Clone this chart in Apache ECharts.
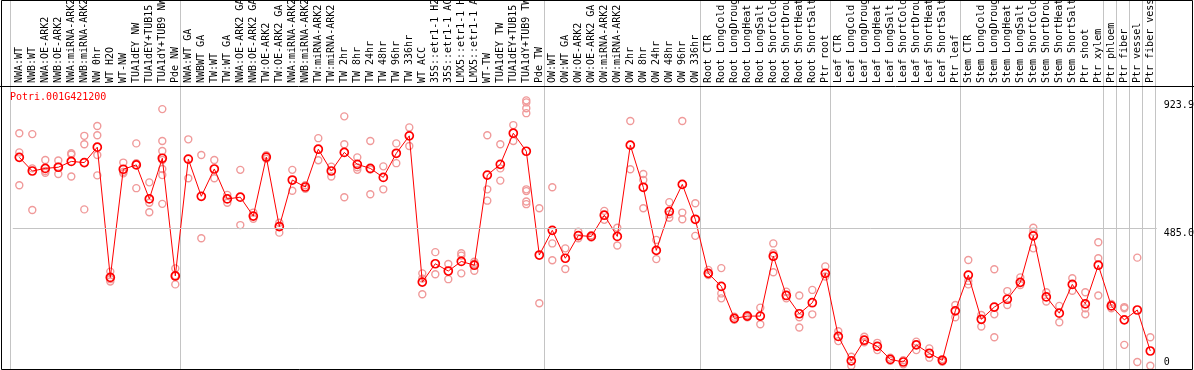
<!DOCTYPE html>
<html><head><meta charset="utf-8">
<script src="https://cdn.jsdelivr.net/npm/echarts@6/dist/echarts.min.js"></script>
<style>html,body{margin:0;padding:0;background:#fff}#c{width:1194px;height:370px}</style>
</head><body><div id="c"></div>
<script>
const geneId = 'Potri.001G421200';
const categories = [
 'NWA:WT','NWB:WT','NWA:OE-ARK2','NWB:OE-ARK2','NWA:miRNA-ARK2','NWB:miRNA-ARK2','NW 0hr','WT H2O','WT-NW','TUA1dEY NW','TUA1dEY+TUB15 NW','TUA1dY+TUB9 NW','Pde NW',
 'NWA:WT GA','NWBWT GA','TW:WT','TW:WT GA','NWA:OE-ARK2 GA','NWB:OE-ARK2 GA','TW:OE-ARK2','TW:OE-ARK2 GA','NWA:miRNA-ARK2 GA','NWB:miRNA-ARK2 GA','TW:miRNA-ARK2','TW:miRNA-ARK2 GA',
 'TW 2hr','TW 8hr','TW 24hr','TW 48hr','TW 96hr','TW 336hr','WT ACC','35S::etr1-1 H2O','35S::etr1-1 ACC','LMX5::etr1-1 H2O','LMX5::etr1-1 ACC','WT-TW','TUA1dEY TW','TUA1dEY+TUB15 TW','TUA1dY+TUB9 TW','Pde TW',
 'OW:WT','OW:WT GA','OW:OE-ARK2','OW:OE-ARK2 GA','OW:miRNA-ARK2','OW:miRNA-ARK2 GA','OW 2hr','OW 8hr','OW 24hr','OW 48hr','OW 96hr','OW 336hr',
 'Root CTR','Root LongCold','Root LongDrought','Root LongHeat','Root LongSalt','Root ShortCold','Root ShortDrought','Root ShortHeat','Root ShortSalt','Ptr root',
 'Leaf CTR','Leaf LongCold','Leaf LongDrought','Leaf LongHeat','Leaf LongSalt','Leaf ShortCold','Leaf ShortDrought','Leaf ShortHeat','Leaf ShortSalt','Ptr leaf',
 'Stem CTR','Stem LongCold','Stem LongDrought','Stem LongHeat','Stem LongSalt','Stem ShortCold','Stem ShortDrought','Stem ShortHeat','Stem ShortSalt','Ptr shoot','Ptr xylem',
 'Ptr phloem','Ptr fiber','Ptr vessel','Ptr fiber vessel'
];
const meanValues = [
 728,681,690,694,714,710,763,315,687,702,585,725,320,
 722,594,688,585,591,526,729,490,650,626,756,681,
 745,704,690,659,742,802,299,362,337,370,357,667,704,811,749,392,
 477,381,459,456,529,456,770,625,408,542,635,515,
 329,284,174,182,182,388,253,190,228,329,
 112,28,99,78,33,24,83,54,30,200,
 323,171,213,240,298,458,248,192,291,224,357,
 217,169,203,62
];
const replicateValues = [
 [811,745,632],[808,690,547],[719,681,675],[717,696,671],[742,738,662],[802,773,549],[836,804,736,666],[335,309,301],[710,678,673],[776,708,622],[642,572,539],[894,784,750,719,688,667,568],[346,322,291],
 [790,656],[736,450],[719,656],[599,572],[685,495],[538,517],[735,723],[503,469],[685,613],[632,620],[794,718],[696,662],
 [869,773,591],[728,694,685],[784,686,601],[697,618],[776,708],[831,767],[329,311,257],[402,326],[361,309],[398,390,329],[369,362,338],[804,618,579],[773,690,648],[839,784],[924,917,897,880,618,612,576,567],[553,226],
 [625,432,374],[415,344],[472,450],[460,452],[544,513],[486,425],[853,687],[671,650,553],[444,378],[574,532,520],[853,538,515],[570,458],
 [341,323],[347,260,243],[180,169],[186,178],[211,154],[432,398,333],[266,243],[253,178,143],[272,188],[353,318],
 [130,96],[42,11],[111,92],[90,65],[39,28],[30,16],[94,65],[71,39],[34,25],[220,178],
 [375,303,291],[186,146],[343,188,109],[268,220],[315,289],[486,472,415],[264,232],[217,161],[312,269],[264,209,188],[436,381,253],
 [224,209],[213,209,83],[383,24],[109,11]
];
const yTickValues = [0, 485, 923.9];
const yMax = 970;
const groupEnds = [12,40,52,62,72,83,84,85,86,87];

const MONO = 'DejaVu Sans Mono';
const scatterData = [];
replicateValues.forEach((arr, i) => arr.forEach(v => scatterData.push([i, v])));
const dividerPos = [-0.66].concat(groupEnds.map(i => i + 0.385));

const chart = echarts.init(document.getElementById('c'), null, {renderer: 'canvas'});
const option = {
  animation: false,
  backgroundColor: '#fff',
  title: {
    text: geneId, left: 5, top: 87,
    textStyle: {fontFamily: MONO, fontSize: 10, fontWeight: 'normal', color: '#ff0000'}
  },
  grid: [
    {left: 12.8, right: 37.2, top: 87, height: 282, outerBoundsMode: 'none', containLabel: false},
    {left: 0, right: 37.2, top: 0, height: 369, outerBoundsMode: 'none', containLabel: false}
  ],
  xAxis: [
    {
      type: 'category', gridIndex: 0, position: 'top', data: categories, boundaryGap: true,
      axisLine: {show: false}, axisTick: {show: false}, splitLine: {show: false},
      axisLabel: {interval: 0, rotate: 90, margin: 4, fontFamily: MONO, fontSize: 10, color: '#000', hideOverlap: false}
    },
    {
      type: 'value', gridIndex: 1, min: -1.4846, max: 87.5,
      axisLine: {show: false}, axisLabel: {show: false},
      axisTick: {show: false, customValues: dividerPos},
      splitLine: {show: true, lineStyle: {color: '#c4c4c4', width: 1}}
    }
  ],
  yAxis: [
    {
      type: 'value', gridIndex: 0, position: 'right', min: 0, max: yMax, interval: 485,
      axisLine: {show: false}, axisTick: {show: false}, splitLine: {show: false},
      axisLabel: {
        customValues: yTickValues, margin: 7, align: 'left',
        formatter: v => v === 0 ? '{a|0}' : '{b|' + v.toFixed(1) + '}',
        rich: {
          a: {fontFamily: MONO, fontSize: 10, color: '#000', padding: [0, 0, 14, 0]},
          b: {fontFamily: MONO, fontSize: 10, color: '#000', padding: [10, 0, 0, 0]}
        }
      }
    },
    {type: 'value', gridIndex: 1, min: 0, max: 1, show: false}
  ],
  series: [
    {
      type: 'line', xAxisIndex: 0, yAxisIndex: 0, data: [], silent: true,
      markLine: {
        silent: true, symbol: 'none', label: {show: false},
        lineStyle: {color: '#c4c4c4', width: 1, type: 'solid'},
        data: [{yAxis: 485}]
      }
    },
    {
      type: 'scatter', xAxisIndex: 0, yAxisIndex: 0, data: scatterData,
      symbol: 'circle', symbolSize: 7, silent: true, z: 3,
      itemStyle: {color: 'rgba(0,0,0,0)', borderColor: '#f09a9a', borderWidth: 1.4, opacity: 1}
    },
    {
      type: 'line', xAxisIndex: 0, yAxisIndex: 0, data: meanValues,
      symbol: 'circle', symbolSize: 8, showAllSymbol: true, silent: true, z: 4,
      lineStyle: {color: '#ff0000', width: 1},
      itemStyle: {color: 'rgba(0,0,0,0)', borderColor: '#ff0000', borderWidth: 1.7}
    }
  ],
  graphic: [
    {type: 'rect', silent: true, z: 100, shape: {x: 1.5, y: 0.5, width: 1191, height: 369},
     style: {fill: 'none', stroke: '#000', lineWidth: 1}},
    {type: 'line', silent: true, z: 100, shape: {x1: 0, y1: 86.5, x2: 1194, y2: 86.5},
     style: {stroke: '#000', lineWidth: 1}}
  ]
};
chart.setOption(option);
</script></body></html>
